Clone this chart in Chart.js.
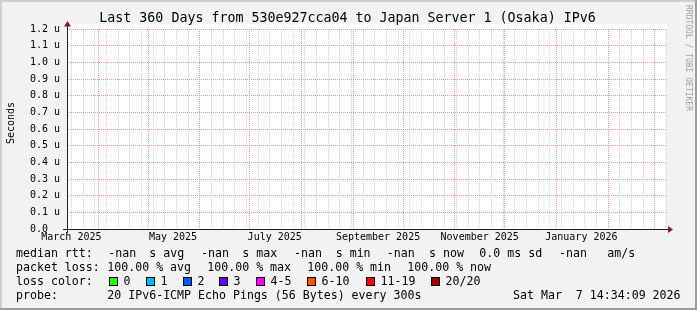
<!DOCTYPE html>
<html>
<head>
<meta charset="utf-8">
<script src="https://cdn.jsdelivr.net/npm/chart.js@4.4.1/dist/chart.umd.min.js"></script>
<style>
html, body { margin: 0; padding: 0; background: #f2f2f2; }
canvas { display: block; }
</style>
</head>
<body>
<canvas id="graf" width="697" height="310"></canvas>
<script>
// ---- data ----
const plot_title = 'Last 360 Days from 530e927cca04 to Japan Server 1 (Osaka) IPv6';
const y_axis_title = 'Seconds';
const window_start = '2025-03-13T09:00:00Z';
const window_end = '2026-03-08T09:00:00Z';
const y_max = 1.2;
const y_step = 0.1;
const y_unit = 'u';
const month_lines = ['2025-04-01', '2025-05-01', '2025-06-01', '2025-07-01', '2025-08-01', '2025-09-01',
    '2025-10-01', '2025-11-01', '2025-12-01', '2026-01-01', '2026-02-01', '2026-03-01'];
const first_sunday = '2025-03-16';
const month_label_dates = ['2025-03-16', '2025-05-16', '2025-07-16', '2025-09-16', '2025-11-16', '2026-01-16'];
const month_labels = ['March 2025', 'May 2025', 'July 2025', 'September 2025', 'November 2025', 'January 2026'];
const sample_dates = ['2025-03-15', '2025-04-15', '2025-05-15', '2025-06-15', '2025-07-15', '2025-08-15',
    '2025-09-15', '2025-10-15', '2025-11-15', '2025-12-15', '2026-01-15', '2026-02-15'];
const median_rtt = [null, null, null, null, null, null, null, null, null, null, null, null];
const stat_names = ['avg', 'max', 'min', 'now'];
const median_rtt_stats = ['-nan', '-nan', '-nan', '-nan'];
const loss_stats = ['100.00', '100.00', '100.00', '100.00'];
const rtt_sd = '0.0 ms';
const am_per_s = '-nan';
const loss_labels = ['0', '1', '2', '3', '4-5', '6-10', '11-19', '20/20'];
const loss_colors = ['#26ff00', '#00b8ff', '#0059ff', '#6600ff', '#ff00ff', '#ff5500', '#ff0000', '#a10000'];
const probe_text = '20 IPv6-ICMP Echo Pings (56 Bytes) every 300s';
const timestamp_text = 'Sat Mar  7 14:34:09 2026';
const watermark = 'RRDTOOL / TOBI OETIKER';

// ---- style ----
let mono = "'DejaVu Sans Mono', monospace";
let ozadje = '#f2f2f2';
let platno = '#ffffff';
let mreza = '#d2d2d2';
let glavna_mreza = 'rgb(236,152,152)';
let os_barva = '#1f1f1f';
let puscica = '#801f1f';
let senca_a = '#cfcfcf';
let senca_b = '#9e9e9e';

const base_time = Date.parse('2025-03-01T00:00:00Z');
function to_day(s) {
    if (s.length === 10) s = s + 'T00:00:00Z';
    return (Date.parse(s) - base_time) / 86400000;
}
const x_min = to_day(window_start);
const x_max = to_day(window_end);

// ticks on the time axis: weekly (Sunday) minor lines, monthly major lines, labels mid-month
const tick_info = new Map();
for (let d = to_day(first_sunday); d <= x_max; d += 7) {
    tick_info.set(d, { grid: 'week', label: '' });
}
month_lines.forEach(m => tick_info.set(to_day(m), { grid: 'month', label: '' }));
month_label_dates.forEach((m, i) => {
    const d = to_day(m);
    const t = tick_info.get(d) || { grid: null, label: '' };
    t.label = month_labels[i];
    tick_info.set(d, t);
});

const points = sample_dates.map((d, i) => ({ x: to_day(d), y: median_rtt[i] }));

const rrd_look = {
    id: 'rrd_look',
    beforeDraw(chart) {
        const ctx = chart.ctx;
        const a = chart.chartArea;
        ctx.save();
        ctx.fillStyle = ozadje;
        ctx.fillRect(0, 0, chart.width, chart.height);
        // frame
        ctx.fillStyle = senca_a;
        ctx.fillRect(0, 0, chart.width, 2);
        ctx.fillRect(0, 0, 2, chart.height);
        ctx.fillStyle = senca_b;
        ctx.fillRect(0, chart.height - 2, chart.width, 2);
        ctx.fillRect(chart.width - 2, 0, 2, chart.height);
        ctx.fillStyle = platno;
        ctx.fillRect(a.left, a.top - 5, a.right - a.left, a.bottom - a.top + 5);
        ctx.restore();
    },
    afterDraw(chart) {
        const ctx = chart.ctx;
        const a = chart.chartArea;
        ctx.save();
        // axes
        ctx.strokeStyle = os_barva;
        ctx.lineWidth = 1;
        ctx.beginPath();
        ctx.moveTo(a.left - 4, a.bottom + 0.5);
        ctx.lineTo(a.right + 1, a.bottom + 0.5);
        ctx.moveTo(a.left + 0.5, a.bottom + 4);
        ctx.lineTo(a.left + 0.5, a.top - 3);
        ctx.stroke();
        ctx.fillStyle = puscica;
        ctx.beginPath();
        ctx.moveTo(a.right + 1, a.bottom - 3);
        ctx.lineTo(a.right + 6, a.bottom + 0.5);
        ctx.lineTo(a.right + 1, a.bottom + 4);
        ctx.fill();
        ctx.beginPath();
        ctx.moveTo(a.left - 3, a.top - 2.5);
        ctx.lineTo(a.left + 0.5, a.top - 8);
        ctx.lineTo(a.left + 4, a.top - 2.5);
        ctx.fill();

        // title
        ctx.fillStyle = '#000';
        ctx.textBaseline = 'middle';
        ctx.textAlign = 'center';
        ctx.font = '13.3px ' + mono;
        ctx.fillText(plot_title, 347.5, 19);

        // y axis title
        ctx.font = '10px ' + mono;
        ctx.save();
        ctx.translate(11, 123);
        ctx.rotate(-Math.PI / 2);
        ctx.fillText(y_axis_title, 0, 0);
        ctx.restore();

        // watermark
        ctx.save();
        ctx.fillStyle = '#a0a0a0';
        ctx.font = '8px ' + mono;
        ctx.textAlign = 'left';
        ctx.translate(688.5, 5);
        ctx.rotate(Math.PI / 2);
        ctx.fillText(watermark, 0, 0);
        ctx.restore();

        // legend
        ctx.textAlign = 'left';
        ctx.font = '11.6px ' + mono;
        const nan_x = [108.3, 201, 294, 386.7];
        const unit_x = [149.3, 242.3, 335.7, 429];
        let y = 254;
        ctx.fillText('median rtt:', 16, y);
        stat_names.forEach((s, i) => {
            ctx.fillText(median_rtt_stats[i], nan_x[i], y);
            ctx.fillText('s ' + s, unit_x[i], y);
        });
        ctx.fillText(rtt_sd + ' sd', 479.3, y);
        ctx.fillText(am_per_s, 559, y);
        ctx.fillText('am/s', 607.3, y);

        y = 268;
        ctx.fillText('packet loss:', 16, y);
        stat_names.forEach((s, i) => {
            ctx.fillText(loss_stats[i] + ' % ' + s, 107.3 + 100 * i, y);
        });

        y = 282;
        ctx.fillText('loss color:', 16, y);
        const box_x = [109, 146, 183, 219, 256, 307, 366, 431];
        loss_labels.forEach((l, i) => {
            ctx.fillStyle = loss_colors[i];
            ctx.fillRect(box_x[i], 277, 9, 9);
            ctx.strokeStyle = '#000';
            ctx.strokeRect(box_x[i] + 0.5, 277.5, 8, 8);
            ctx.fillStyle = '#000';
            ctx.fillText(l, box_x[i] + 14.5, y);
        });

        y = 296;
        ctx.fillText('probe:', 16, y);
        ctx.fillText(probe_text, 107.3, y);
        ctx.fillText(timestamp_text, 513, y);
        ctx.restore();
    }
};

const platno_za_graf = document.getElementById('graf').getContext('2d');
const graf = new Chart(platno_za_graf, {
    type: 'line',
    data: {
        datasets: [{
            label: 'median rtt',
            data: points,
            borderColor: '#26ff00',
            borderWidth: 1,
            pointRadius: 0,
            spanGaps: false,
            fill: false
        }]
    },
    options: {
        responsive: false,
        animation: false,
        layout: { padding: { left: 0, top: 29, right: 30, bottom: 0 } },
        plugins: {
            legend: { display: false },
            tooltip: { enabled: false },
            title: { display: false }
        },
        scales: {
            x: {
                type: 'linear',
                min: x_min,
                max: x_max,
                bounds: 'data',
                afterFit: s => { s.height = 81; },
                afterBuildTicks: s => {
                    s.ticks = [...tick_info.keys()].sort((p, q) => p - q).map(v => ({ value: v }));
                },
                ticks: {
                    autoSkip: false,
                    maxRotation: 0,
                    minRotation: 0,
                    padding: 2,
                    color: '#000',
                    font: { family: mono, size: 10 },
                    callback: v => (tick_info.get(v) || {}).label || ''
                },
                grid: {
                    drawTicks: false,
                    lineWidth: 1,
                    color: c => {
                        const t = tick_info.get(c.tick.value);
                        if (!t || !t.grid) return 'rgba(0,0,0,0)';
                        return t.grid === 'month' ? glavna_mreza : mreza;
                    }
                },
                border: { display: false, dash: [1, 1] }
            },
            y: {
                min: 0,
                max: y_max,
                afterFit: s => { s.width = 67; },
                ticks: {
                    stepSize: y_step,
                    padding: 7,
                    color: '#000',
                    font: { family: mono, size: 10 },
                    callback: v => v === 0 ? '0.0  ' : v.toFixed(1) + ' ' + y_unit
                },
                grid: { drawTicks: false, color: glavna_mreza, lineWidth: 1 },
                border: { display: false, dash: [1, 1] }
            }
        }
    },
    plugins: [rrd_look]
});
</script>
</body>
</html>
